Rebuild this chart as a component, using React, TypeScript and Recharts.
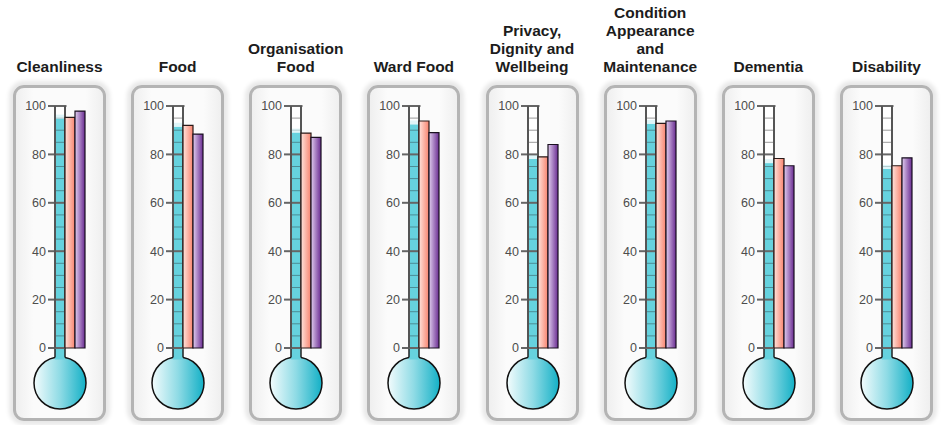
import { Bar, BarChart, XAxis, YAxis } from "recharts";

// Survey areas, one thermometer each ("\n" marks the title line breaks)
const CATEGORIES = [
  "Cleanliness",
  "Food",
  "Organisation\nFood",
  "Ward Food",
  "Privacy,\nDignity and\nWellbeing",
  "Condition\nAppearance\nand\nMaintenance",
  "Dementia",
  "Disability",
];

const TRUST_SCORES = [94.8, 91.4, 89.0, 92.4, 78.1, 92.6, 76.4, 74.0];
const REGION_SCORES = [95.3, 92.0, 88.8, 93.8, 79.0, 92.8, 78.3, 75.3];
const NATIONAL_SCORES = [97.9, 88.4, 87.0, 89.0, 84.1, 93.8, 75.3, 78.6];

const Y_TICKS = [0, 20, 40, 60, 80, 100];
const MINOR_STEP = 5;

const PANEL_LEFT = 13;
const PANEL_PITCH = 118.14;
const PANEL_WIDTH = 93;
const CHART_TOP = 90;
const CHART_HEIGHT = 323;

const FONT = '"Liberation Sans", Arial, sans-serif';
const TUBE_CYAN = "#66d2de";

function minorValues() {
  const out: number[] = [];
  for (let v = MINOR_STEP; v < 100; v += MINOR_STEP) if (v % 20 !== 0) out.push(v);
  return out;
}

// Glass tube, neck and bulb behind the fill
function TubeBackground(props: any) {
  const { x, y, width, height } = props;
  const bottom = y + height;
  const unit = height / 100;
  const cx = x + width / 2;
  const r = 26;
  const cy = bottom + 35;
  const half = width / 2;
  const join = cy - Math.sqrt(r * r - half * half);
  return (
    <g>
      <rect x={x} y={y} width={width} height={height} fill="#fff" />
      {minorValues().map((v) => (
        <line key={v} x1={x} x2={x + width} y1={bottom - v * unit} y2={bottom - v * unit} stroke="#9a9a9a" strokeWidth={1} />
      ))}
      <circle cx={cx} cy={cy} r={r} fill="url(#bulbGrad)" stroke="#111" strokeWidth={1.5} />
      <rect x={x} y={bottom - 1} width={width} height={join - bottom + 3} fill={TUBE_CYAN} />
      <line x1={x} x2={x} y1={bottom} y2={join} stroke="#222" strokeWidth={1.5} />
      <line x1={x + width} x2={x + width} y1={bottom} y2={join} stroke="#222" strokeWidth={1.5} />
    </g>
  );
}

// Mercury column plus the tube's scale marks and walls
function TubeFill(props: any) {
  const { x, y, width, height, background } = props;
  const top = background ? background.y : y;
  const full = background ? background.height : height;
  const bottom = top + full;
  const unit = full / 100;
  return (
    <g>
      <rect x={x} y={y} width={width} height={height} fill={TUBE_CYAN} />
      <rect x={x} y={y - 4} width={width} height={4} fill="#c9eff3" opacity={0.6} />
      {minorValues()
        .filter((v) => bottom - v * unit >= y)
        .map((v) => (
          <line key={v} x1={x} x2={x + width} y1={bottom - v * unit} y2={bottom - v * unit} stroke="#4d8d95" strokeWidth={1} />
        ))}
      {Y_TICKS.map((v) => (
        <line
          key={v}
          x1={x - (v === 100 ? 1 : 0)}
          x2={x + width + (v === 100 ? 1.5 : 0)}
          y1={bottom - v * unit}
          y2={bottom - v * unit}
          stroke="#666"
          strokeWidth={2}
        />
      ))}
      <line x1={x} x2={x} y1={top} y2={bottom} stroke="#555" strokeWidth={2} />
      <line x1={x + width} x2={x + width} y1={top} y2={bottom} stroke="#555" strokeWidth={2} />
    </g>
  );
}

function Thermometer({ index }: { index: number }) {
  const data = [
    {
      name: CATEGORIES[index],
      trust: TRUST_SCORES[index],
      region: REGION_SCORES[index],
      national: NATIONAL_SCORES[index],
    },
  ];
  return (
    <BarChart
      width={PANEL_WIDTH}
      height={CHART_HEIGHT}
      data={data}
      margin={{ top: 16, right: 20, bottom: 65, left: 0 }}
      barSize={10}
      barGap={1}
      style={{ overflow: "visible" }}
    >
      <defs>
        <linearGradient id="bulbGrad" x1="0" y1="0" x2="1" y2="0">
          <stop offset="0%" stopColor="#f3fcfd" />
          <stop offset="50%" stopColor="#8fdbe5" />
          <stop offset="100%" stopColor="#13b0c6" />
        </linearGradient>
        <linearGradient id="pinkGrad" x1="0" y1="0" x2="1" y2="0">
          <stop offset="0%" stopColor="#ffe3dc" />
          <stop offset="100%" stopColor="#f8836e" />
        </linearGradient>
        <linearGradient id="purpleGrad" x1="0" y1="0" x2="1" y2="0">
          <stop offset="0%" stopColor="#e0cdee" />
          <stop offset="100%" stopColor="#6a2c92" />
        </linearGradient>
      </defs>
      <XAxis dataKey="name" hide />
      <YAxis
        domain={[0, 100]}
        ticks={Y_TICKS}
        interval={0}
        width={41}
        axisLine={false}
        tickSize={6}
        tickLine={{ stroke: "#666", strokeWidth: 2 }}
        tick={{ fontSize: 12.5, fill: "#4d4d4d", fontFamily: FONT }}
      />
      <Bar dataKey="trust" background={<TubeBackground />} shape={<TubeFill />} isAnimationActive={false} />
      <Bar dataKey="region" fill="url(#pinkGrad)" stroke="#2a1a18" strokeWidth={1.2} isAnimationActive={false} />
      <Bar dataKey="national" fill="url(#purpleGrad)" stroke="#1a1020" strokeWidth={1.2} isAnimationActive={false} />
    </BarChart>
  );
}

export default function App() {
  return (
    <div style={{ position: "absolute", left: 0, top: 0, width: 945, height: 425, background: "#fff", fontFamily: FONT, overflow: "hidden" }}>
      {CATEGORIES.map((cat, i) => {
        const left = PANEL_LEFT + i * PANEL_PITCH;
        const lines = cat.split("\n").length;
        return (
          <div key={cat}>
            <div
              style={{
                position: "absolute",
                left: left - 12.5,
                top: 57.6 - (lines - 1) * 18,
                width: 118,
                textAlign: "center",
                whiteSpace: "pre-line",
                fontWeight: "bold",
                fontSize: 15.5,
                lineHeight: "18px",
                color: "#1c1c1c",
              }}
            >
              {cat}
            </div>
            <div
              style={{
                position: "absolute",
                left,
                top: 85,
                width: PANEL_WIDTH,
                height: 336,
                boxSizing: "border-box",
                border: "3px solid #b4b4b4",
                borderRadius: 11,
                background: "linear-gradient(to right, #efefef, #fbfbfb 20%, #fbfbfb 80%, #efefef)",
                boxShadow: "0 0 4px 4px #e8e8e8",
              }}
            />
            <div style={{ position: "absolute", left, top: CHART_TOP }}>
              <Thermometer index={i} />
            </div>
          </div>
        );
      })}
    </div>
  );
}
